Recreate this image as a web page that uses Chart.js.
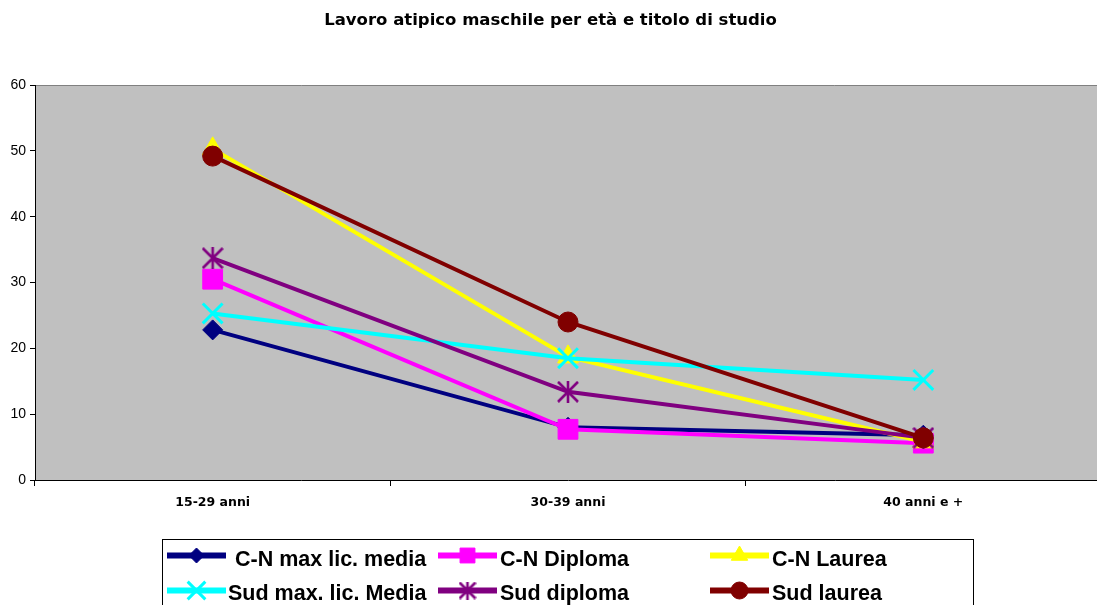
<!DOCTYPE html>
<html>
<head>
<meta charset="utf-8">
<script src="https://cdn.jsdelivr.net/npm/chart.js@4/dist/chart.umd.min.js"></script>
<style>
  html, body { margin: 0; padding: 0; background: #ffffff; overflow: hidden; }
  #wrap { width: 1097px; height: 605px; position: relative; overflow: hidden; }
</style>
</head>
<body>
<div id="wrap"><canvas id="c" width="1101" height="605"></canvas></div>
<script>
// Age groups on the x axis
const categories = ['15-29 anni', '30-39 anni', '40 anni e +'];

// Share of atypical work (%) per series
const cnMaxLicMedia  = [22.8, 8.0, 6.8];
const cnDiploma      = [30.5, 7.7, 5.6];
const cnLaurea       = [50.3, 18.7, 5.8];
const sudMaxLicMedia = [25.3, 18.5, 15.2];
const sudDiploma     = [33.7, 13.4, 6.4];
const sudLaurea      = [49.2, 24.0, 6.4];

const seriesNames = [
  'C-N max lic. media', 'C-N Diploma', 'C-N Laurea',
  'Sud max. lic. Media', 'Sud diploma', 'Sud laurea'
];

const yTicks = [0, 10, 20, 30, 40, 50, 60];

const WIDE = '"DejaVu Sans", Verdana, sans-serif';
const ARIAL = 'Arial, "Liberation Sans", sans-serif';

// Asterisk marker: an X with a vertical stroke
function asteriskMarker(color, s) {
  const c = document.createElement('canvas');
  c.width = s; c.height = s;
  const g = c.getContext('2d');
  g.strokeStyle = color; g.lineWidth = 2.6; g.lineCap = 'butt';
  g.beginPath();
  g.moveTo(1, 1); g.lineTo(s - 1, s - 1);
  g.moveTo(s - 1, 1); g.lineTo(1, s - 1);
  g.moveTo(s / 2, 0); g.lineTo(s / 2, s);
  g.stroke();
  return c;
}

function series(label, data, color, style, radius, order, extra) {
  return Object.assign({
    label, data,
    borderColor: color, backgroundColor: color,
    borderWidth: 4,
    pointStyle: style, pointRadius: radius, pointHoverRadius: radius,
    pointBorderColor: color, pointBackgroundColor: color, pointBorderWidth: 1,
    tension: 0, fill: false, order
  }, extra || {});
}

const datasets = [
  series(seriesNames[0], cnMaxLicMedia,  '#000080', 'rectRot',  10, 6, { legendRadius: 7.5 }),
  series(seriesNames[1], cnDiploma,      '#FF00FF', 'rect',     14, 5, { legendRadius: 10.5 }),
  series(seriesNames[2], cnLaurea,       '#FFFF00', 'triangle', 12, 4, { legendRadius: 9.5 }),
  series(seriesNames[3], sudMaxLicMedia, '#00FFFF', 'crossRot', 14, 3, { pointBorderWidth: 3, legendRadius: 12.5 }),
  series(seriesNames[4], sudDiploma,     '#800080', asteriskMarker('#800080', 22), 11, 2,
         { legendStyle: asteriskMarker('#800080', 18) }),
  series(seriesNames[5], sudLaurea,      '#800000', 'circle',   10, 1, { legendRadius: 8.5 })
];

// Grey plot background with a thin grey frame on top
const plotBackground = {
  id: 'plotBackground',
  beforeDraw(chart) {
    const { ctx, chartArea: a } = chart;
    ctx.save();
    ctx.fillStyle = '#C0C0C0';
    ctx.fillRect(a.left, a.top, a.right - a.left, a.bottom - a.top);
    ctx.strokeStyle = '#808080';
    ctx.lineWidth = 1;
    ctx.beginPath();
    ctx.moveTo(a.left, a.top + 0.5);
    ctx.lineTo(a.right, a.top + 0.5);
    ctx.stroke();
    ctx.restore();
  }
};

// Boxed legend below the chart: line sample with marker, then the name
const boxLegend = {
  id: 'boxLegend',
  afterDraw(chart) {
    const { ctx } = chart;
    ctx.save();
    ctx.strokeStyle = '#000000';
    ctx.lineWidth = 1;
    ctx.strokeRect(162.5, 539.5, 811, 80);
    const cols = [167, 438, 710];
    const textX = [[235, 500, 772], [228, 500, 772]];
    const rows = [555.5, 590.5];
    const baselines = [565.5, 600];
    ctx.font = 'bold 21.5px ' + ARIAL;
    ctx.textBaseline = 'alphabetic';
    ctx.textAlign = 'left';
    chart.data.datasets.forEach((ds, i) => {
      const col = i % 3, row = Math.floor(i / 3);
      const x0 = cols[col], y = rows[row];
      const x1 = x0 + 59;
      ctx.strokeStyle = ds.borderColor;
      ctx.fillStyle = ds.borderColor;
      ctx.lineWidth = 6;
      ctx.beginPath();
      ctx.moveTo(x0, y); ctx.lineTo(x1, y);
      ctx.stroke();
      ctx.lineWidth = ds.pointBorderWidth;
      Chart.helpers.drawPoint(ctx, {
        pointStyle: ds.legendStyle || ds.pointStyle,
        radius: ds.legendRadius || ds.pointRadius,
        borderWidth: ds.pointBorderWidth,
        rotation: 0
      }, (x0 + x1) / 2, y);
      ctx.fillStyle = '#000000';
      ctx.fillText(ds.label, textX[row][col], baselines[row]);
    });
    ctx.restore();
  }
};

new Chart(document.getElementById('c'), {
  type: 'line',
  data: { labels: categories, datasets },
  plugins: [plotBackground, boxLegend],
  options: {
    responsive: false,
    animation: false,
    events: [],
    layout: { autoPadding: false, padding: { left: 0, right: 0, top: 0, bottom: 0 } },
    plugins: {
      legend: { display: false },
      tooltip: { enabled: false },
      title: {
        display: true,
        text: 'Lavoro atipico maschile per età e titolo di studio',
        color: '#000000',
        font: { family: WIDE, size: 16.5, weight: 'bold', lineHeight: 1.2 },
        padding: { top: 11, bottom: 54.2 }
      }
    },
    scales: {
      x: {
        type: 'category',
        offset: true,
        grid: {
          offset: true, drawOnChartArea: false, drawTicks: true,
          tickLength: 6, color: '#000000', lineWidth: 1
        },
        border: { display: true, color: '#000000', width: 1 },
        ticks: {
          color: '#000000', padding: 9, maxRotation: 0,
          font: { family: WIDE, size: 12.5, weight: 'bold' }
        },
        afterFit(scale) { scale.height = 125; }
      },
      y: {
        min: 0, max: 60,
        afterBuildTicks(scale) { scale.ticks = yTicks.map(v => ({ value: v })); },
        grid: {
          drawOnChartArea: false, drawTicks: true, tickLength: 5,
          color: '#000000', lineWidth: 1
        },
        border: { display: true, color: '#000000', width: 1 },
        ticks: {
          color: '#000000', padding: 4,
          font: { family: ARIAL, size: 14 }
        },
        afterFit(scale) { scale.width = 35; }
      }
    }
  }
});
</script>
</body>
</html>
